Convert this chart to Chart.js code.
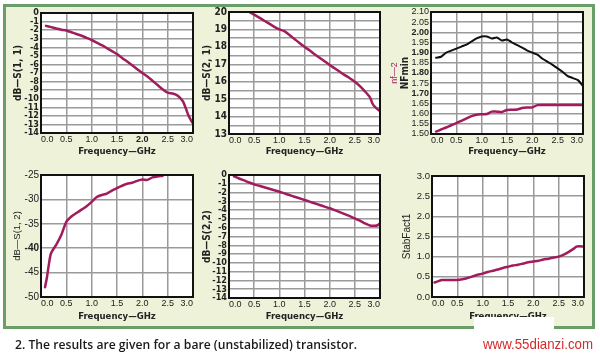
<!DOCTYPE html>
<html><head><meta charset="utf-8">
<script src="https://cdn.jsdelivr.net/npm/chart.js@4.4.0/dist/chart.umd.min.js"></script>
<style>
html,body{margin:0;padding:0;background:#fff;width:600px;height:354px;overflow:hidden;position:relative;}
#frame{position:absolute;left:3px;top:4px;width:586px;height:319px;border:3px solid #6a9d69;background:#eef2d9;}
canvas{position:absolute;left:0;top:0;}
#cover{position:absolute;left:474px;top:317px;width:80px;height:20px;background:#fff;z-index:10;}
#cap{position:absolute;left:15px;top:338px;font:600 12px 'Open Sans','Liberation Sans',sans-serif;color:#1a1a1a;white-space:nowrap;line-height:14px;transform-origin:0 50%;}
#wm{position:absolute;left:483px;top:336px;font:15px 'Liberation Sans',sans-serif;color:#d42a2a;white-space:nowrap;line-height:16px;transform-origin:0 50%;}
</style></head>
<body>
<div id="frame"></div>
<canvas id="c1" width="600" height="354"></canvas>
<canvas id="c2" width="600" height="354"></canvas>
<canvas id="c3" width="600" height="354"></canvas>
<canvas id="c4" width="600" height="354"></canvas>
<canvas id="c5" width="600" height="354"></canvas>
<canvas id="c6" width="600" height="354"></canvas>
<div id="cover"></div>
<div id="cap">2. The results are given for a bare (unstabilized) transistor.</div>
<div id="wm">www.55dianzi.com</div>
<script>
// ---- data ----
const freqTicks = [0, 0.5, 1, 1.5, 2, 2.5, 3];
const freqLabels = ['0.0', '0.5', '1.0', '1.5', '2.0', '2.5', '3.0'];

const freqS11 = [0.1,0.2,0.3,0.4,0.5,0.6,0.7,0.8,0.9,1.0,1.1,1.2,1.3,1.4,1.5,1.6,1.7,1.8,1.9,2.0,2.1,2.2,2.3,2.4,2.5,2.6,2.7,2.8,2.85,2.9,2.95,3.0];
const s11 = [-1.5,-1.65,-1.8,-1.95,-2.05,-2.25,-2.45,-2.65,-2.9,-3.15,-3.45,-3.75,-4.1,-4.45,-4.8,-5.25,-5.65,-6.1,-6.55,-7.0,-7.4,-7.9,-8.4,-8.9,-9.3,-9.4,-9.65,-10.3,-11.0,-11.8,-12.4,-12.9];

const freqS21 = [0.4,0.5,0.6,0.7,0.8,0.9,1.0,1.1,1.2,1.3,1.4,1.5,1.6,1.7,1.8,1.9,2.0,2.1,2.2,2.3,2.4,2.5,2.6,2.7,2.8,2.85,2.9,3.0];
const s21 = [20.0,19.85,19.68,19.5,19.33,19.15,19.0,18.9,18.68,18.45,18.22,18.0,17.8,17.58,17.38,17.17,16.96,16.77,16.57,16.38,16.2,16.0,15.75,15.45,15.1,14.75,14.55,14.3];

const freqNF = [0.1,0.2,0.3,0.4,0.5,0.6,0.7,0.8,0.9,1.0,1.1,1.2,1.3,1.4,1.5,1.6,1.7,1.8,1.9,2.0,2.1,2.2,2.3,2.4,2.5,2.6,2.7,2.8,2.9,3.0];
const nfMin = [1.875,1.88,1.9,1.91,1.92,1.93,1.94,1.955,1.97,1.98,1.98,1.97,1.975,1.96,1.965,1.95,1.937,1.925,1.91,1.9,1.89,1.87,1.855,1.84,1.823,1.805,1.785,1.775,1.765,1.735];
const freqNf2 = [0.1,0.2,0.3,0.4,0.5,0.6,0.7,0.8,0.9,1.0,1.1,1.2,1.3,1.4,1.5,1.6,1.7,1.8,1.9,2.0,2.1,2.2,2.5,3.0];
const nf2 = [1.512,1.522,1.532,1.543,1.553,1.565,1.577,1.588,1.595,1.597,1.598,1.61,1.61,1.608,1.618,1.619,1.62,1.628,1.63,1.631,1.642,1.643,1.643,1.643];

const freqS12 = [0.08,0.12,0.16,0.2,0.3,0.4,0.5,0.6,0.7,0.8,0.9,1.0,1.1,1.2,1.3,1.4,1.5,1.6,1.7,1.8,1.9,2.0,2.1,2.2,2.3,2.4];
const s12 = [-48.0,-45.8,-43.0,-41.0,-39.3,-37.3,-34.6,-33.5,-32.8,-32.1,-31.4,-30.5,-29.5,-29.1,-28.8,-28.2,-27.7,-27.2,-26.8,-26.6,-26.2,-25.9,-26.0,-25.5,-25.3,-25.2];

const freqS22 = [0.1,0.2,0.3,0.4,0.5,0.6,0.7,0.8,0.9,1.0,1.1,1.2,1.3,1.4,1.5,1.6,1.7,1.8,1.9,2.0,2.1,2.2,2.3,2.4,2.5,2.6,2.7,2.8,2.9,2.95,3.0];
const s22 = [-0.15,-0.4,-0.62,-0.85,-1.06,-1.23,-1.4,-1.57,-1.73,-1.9,-2.09,-2.28,-2.47,-2.65,-2.84,-3.03,-3.22,-3.41,-3.6,-3.79,-4.0,-4.22,-4.45,-4.69,-4.93,-5.2,-5.5,-5.75,-5.77,-5.72,-5.5];

const freqStab = [0.05,0.1,0.2,0.3,0.4,0.5,0.6,0.7,0.8,0.9,1.0,1.1,1.2,1.3,1.4,1.5,1.6,1.7,1.8,1.9,2.0,2.1,2.2,2.3,2.4,2.5,2.6,2.7,2.8,2.85,2.9,3.0];
const stab = [0.36,0.38,0.42,0.42,0.42,0.42,0.44,0.47,0.51,0.55,0.58,0.62,0.65,0.68,0.72,0.75,0.78,0.8,0.83,0.86,0.88,0.9,0.93,0.95,0.98,1.0,1.05,1.12,1.2,1.25,1.26,1.25];

const s11TickVals = [0,-1,-2,-3,-4,-5,-6,-7,-8,-9,-10,-11,-12,-13,-14];
const s11TickLabels = ['0','-1','-2','-3','-4','-5','-6','-7','-8','-9','-10','-11','-12','-13','-14'];
const s21TickVals = [13,13.5,14,14.5,15,15.5,16,16.5,17,17.5,18,18.5,19,19.5,20];
const s21TickLabels = ['13','','14','','15','','16','','17','','18','','19','','20'];
const nfTickVals = [1.50,1.55,1.60,1.65,1.70,1.75,1.80,1.85,1.90,1.95,2.00,2.05,2.10];
const nfTickLabels = ['1.50','1.55','1.60','1.65','1.70','1.75','1.80','1.85','1.90','1.95','2.00','2.05','2.10'];
const s12TickVals = [-50,-45,-40,-35,-30,-25];
const s12TickLabels = ['-50','-45','-40','-35','-30','-25'];
const s22TickVals = s11TickVals;
const s22TickLabels = s11TickLabels;
const stabTickVals = [0,0.5,1,1.5,2,2.5,3];
const stabTickLabels = ['0.0','0.5','1.0','2.5','2.0','2.5','3.0'];

// ---- styling ----
const MAG = '#a11c5c';
const FONT_N = "'Liberation Sans Narrow','DejaVu Sans Condensed','Liberation Sans',sans-serif";
const FONT_R = "'Liberation Sans',Arial,sans-serif";
const pts = (xs, ys) => xs.map((x, i) => ({x, y: ys[i]}));

const boxPlugin = {
  id: 'boxPlugin',
  beforeDraw(chart) {
    const {ctx, chartArea: a} = chart;
    ctx.save(); ctx.fillStyle = '#fff';
    ctx.fillRect(a.left, a.top, a.right - a.left, a.bottom - a.top); ctx.restore();
  },
  afterDraw(chart) {
    const {ctx, chartArea: a} = chart;
    ctx.save(); ctx.strokeStyle = '#111'; ctx.lineWidth = 2;
    ctx.strokeRect(a.left, a.top, a.right - a.left, a.bottom - a.top);
    const ex = chart.options.plugins.extraTitle;
    if (ex && ex.text) {
      ctx.translate(ex.x, (a.top + a.bottom) / 2); ctx.rotate(-Math.PI / 2);
      ctx.font = ex.font; ctx.fillStyle = ex.color; ctx.textAlign = 'center'; ctx.textBaseline = 'middle';
      ctx.fillText(ex.text, 0, 0);
    }
    ctx.restore();
  }
};

function plot(id, g, datasets, y) {
  const padLeft = g.tx - y.titleSize * 0.6;
  const W = g.L - padLeft;
  const xSize = 9.5;
  const xBottom = g.ty + xSize * 0.6;
  const H = xBottom - g.B;
  return new Chart(document.getElementById(id), {
    type: 'line',
    data: {datasets},
    options: {
      responsive: false, animation: false, events: [],
      layout: {padding: {left: padLeft, top: g.T, right: 600 - g.R, bottom: 354 - xBottom}},
      plugins: {legend: {display: false}, tooltip: {enabled: false}, extraTitle: y.extra || null},
      elements: {point: {radius: 0}, line: {tension: 0.25, borderJoinStyle: 'round', borderCapStyle: 'round'}},
      scales: {
        x: {
          type: 'linear', min: 0, max: 3,
          afterBuildTicks: s => { s.ticks = freqTicks.map(v => ({value: v})); },
          afterFit: s => { s.height = H; },
          grid: {color: '#9a9a9a', lineWidth: 1.5, drawTicks: false},
          border: {display: false},
          ticks: {autoSkip: false, maxRotation: 0, align: 'inner', padding: 1, color: '#222',
            callback: (v, i) => freqLabels[i],
            font: c => ({family: FONT_R, size: 9, weight: (g.xBold || []).includes(c.index) ? 'bold' : 'normal'})},
          title: {display: true, text: 'Frequency—GHz', padding: 0, color: '#222',
            font: {family: FONT_N, size: xSize, weight: 'bold', lineHeight: 1.2}}
        },
        y: {
          type: 'linear', min: y.min, max: y.max,
          afterBuildTicks: s => { s.ticks = y.vals.map(v => ({value: v})); },
          afterFit: s => { s.width = W; },
          grid: {color: '#9a9a9a', lineWidth: 1.5, drawTicks: false},
          border: {display: false},
          ticks: {autoSkip: false, padding: 2, color: '#222',
            callback: (v, i) => y.labels[i],
            font: c => ({family: y.tickFamily, size: y.tickSize, weight: (y.bold || []).includes(c.index) ? 'bold' : y.tickWeight})},
          title: {display: true, text: y.title, padding: 0, color: '#222',
            font: {family: y.titleFamily, size: y.titleSize, weight: y.titleWeight, lineHeight: 1.2}}
        }
      }
    },
    plugins: [boxPlugin]
  });
}

const magLine = (xs, ys) => ({data: pts(xs, ys), borderColor: MAG, borderWidth: 2.5, fill: false});

plot('c1', {L: 41, T: 13, R: 193, B: 133, tx: 18, ty: 152, xBold: [4]}, [magLine(freqS11, s11)],
  {min: -14, max: 0, vals: s11TickVals, labels: s11TickLabels, title: 'dB—S(1, 1)',
   tickFamily: FONT_N, tickSize: 9, tickWeight: 'bold', titleFamily: FONT_N, titleSize: 10, titleWeight: 'bold'});

plot('c2', {L: 229, T: 12, R: 380, B: 134, tx: 207, ty: 152}, [magLine(freqS21, s21)],
  {min: 13, max: 20, vals: s21TickVals, labels: s21TickLabels, title: 'dB—S(2, 1)', bold: [2],
   tickFamily: FONT_N, tickSize: 10, tickWeight: 'bold', titleFamily: FONT_N, titleSize: 10, titleWeight: 'bold'});

plot('c3', {L: 431, T: 12, R: 583, B: 134, tx: 405, ty: 152},
  [{data: pts(freqNF, nfMin), borderColor: '#111', borderWidth: 2, fill: false}, magLine(freqNf2, nf2)],
  {min: 1.5, max: 2.1, vals: nfTickVals, labels: nfTickLabels, title: 'NFmin', bold: [4, 6, 8, 10],
   tickFamily: FONT_R, tickSize: 9, tickWeight: 'normal', titleFamily: FONT_N, titleSize: 10, titleWeight: 'bold',
   extra: {text: 'nf—2', x: 395, color: MAG, font: "9px 'Liberation Sans',sans-serif"}});

plot('c4', {L: 41, T: 175, R: 193, B: 297, tx: 17, ty: 317}, [magLine(freqS12, s12)],
  {min: -50, max: -25, vals: s12TickVals, labels: s12TickLabels, title: 'dB—S(1, 2)', bold: [2],
   tickFamily: FONT_R, tickSize: 10, tickWeight: 'normal', titleFamily: FONT_R, titleSize: 9.5, titleWeight: 'normal'});

plot('c5', {L: 229, T: 175, R: 380, B: 298, tx: 207, ty: 317}, [magLine(freqS22, s22)],
  {min: -14, max: 0, vals: s22TickVals, labels: s22TickLabels, title: 'dB—S(2,2)',
   tickFamily: FONT_N, tickSize: 9, tickWeight: 'bold', titleFamily: FONT_N, titleSize: 10, titleWeight: 'bold'});

plot('c6', {L: 432, T: 176, R: 584, B: 297, tx: 407, ty: 317}, [magLine(freqStab, stab)],
  {min: 0, max: 3, vals: stabTickVals, labels: stabTickLabels, title: 'StabFact1',
   tickFamily: FONT_R, tickSize: 9.5, tickWeight: 'normal', titleFamily: FONT_R, titleSize: 10, titleWeight: 'normal'});

// fit caption and watermark widths to the reference
function fitWidth(id, target) {
  const el = document.getElementById(id);
  const w = el.getBoundingClientRect().width;
  if (w > 0) el.style.transform = 'scaleX(' + (target / w) + ')';
}
fitWidth('cap', 342);
fitWidth('wm', 110);
</script>
</body></html>
